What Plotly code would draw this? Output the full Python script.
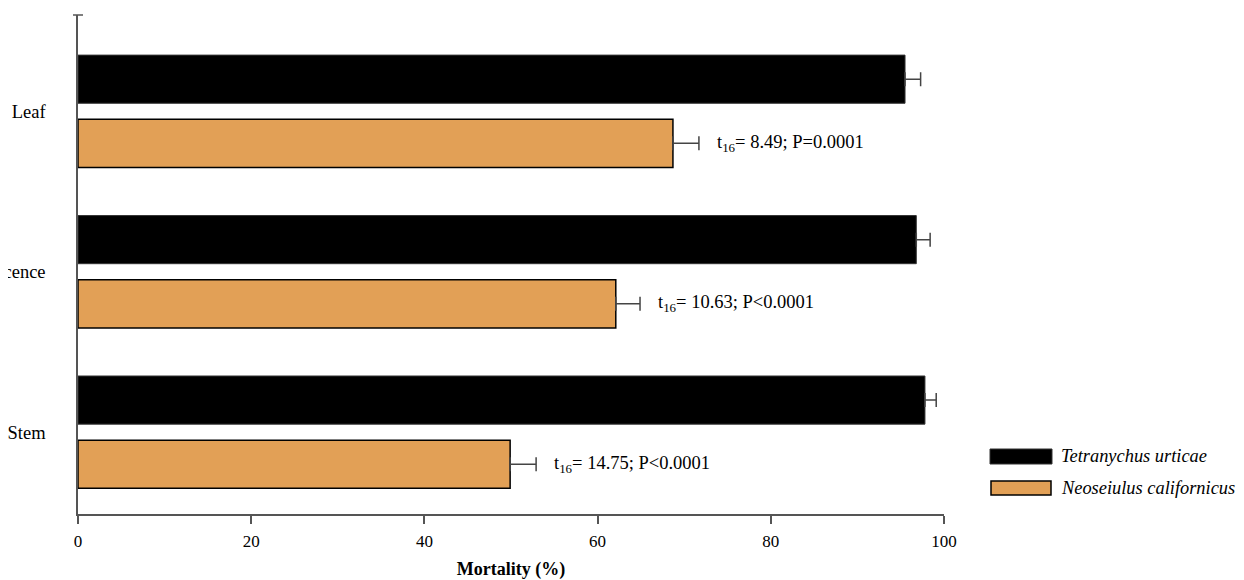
import plotly.graph_objects as go

categories = ["Stem", "Inflorescence", "Leaf"]
tetranychus = [97.8, 96.8, 95.5]
tetranychus_err = [1.3, 1.6, 1.8]
neoseiulus = [49.9, 62.1, 68.7]
neoseiulus_err = [3.0, 2.8, 3.0]
stats_labels = ["t<sub>16</sub>= 14.75; P<0.0001",
                "t<sub>16</sub>= 10.63; P<0.0001",
                "t<sub>16</sub>= 8.49; P=0.0001"]
series_names = ["Tetranychus urticae", "Neoseiulus californicus"]
x_ticks = [0, 20, 40, 60, 80, 100]

BLACK = "#000000"
ORANGE = "#E2A056"
AXIS = "#555555"
FONT = '"Liberation Serif", "DejaVu Serif", serif'

# page offset (browser body margin)
OFF = 8
L, R, T, B = 78, 944, 15, 514   # plot area in screen pixels
W, H = R - L, B - T
FIG_W, FIG_H = 1244 - OFF, 580 - OFF

def px(x):
    return (x - L) / W
def py(y):
    return (B - y) / H

fig = go.Figure()
fig.add_trace(go.Bar(
    y=categories, x=neoseiulus, orientation="h", name=series_names[1],
    marker=dict(color=ORANGE, line=dict(color="#000000", width=1.5)),
    error_x=dict(type="data", array=neoseiulus_err, arrayminus=[0]*3, symmetric=False,
                 color="#444444", thickness=1.5, width=7),
    showlegend=False,
))
fig.add_trace(go.Bar(
    y=categories, x=tetranychus, orientation="h", name=series_names[0],
    marker=dict(color=BLACK, line=dict(color="#333333", width=1)),
    error_x=dict(type="data", array=tetranychus_err, arrayminus=[0]*3, symmetric=False,
                 color="#444444", thickness=1.5, width=7),
    showlegend=False,
))

for i, (v, e, lab) in enumerate(zip(neoseiulus, neoseiulus_err, stats_labels)):
    fig.add_annotation(x=v + e + 1.8, y=i - 0.2, text=lab, showarrow=False,
                       xanchor="left", yanchor="middle",
                       font=dict(family=FONT, size=18.5, color="#000000"))

fig.add_shape(type="rect", xref="paper", yref="paper",
              x0=px(990), x1=px(1052), y0=py(464), y1=py(449),
              fillcolor=BLACK, line=dict(color="#333333", width=1))
fig.add_shape(type="rect", xref="paper", yref="paper",
              x0=px(991), x1=px(1051), y0=py(495), y1=py(481),
              fillcolor=ORANGE, line=dict(color="#000000", width=1.5))
for yy, name in zip([456, 488], series_names):
    fig.add_annotation(xref="paper", yref="paper", x=px(1059), y=py(yy),
                       text="<i>" + name + "</i>", showarrow=False,
                       xanchor="left", yanchor="middle",
                       font=dict(family=FONT, size=18.4, color="#000000"))

fig.add_shape(type="line", xref="paper", yref="paper",
              x0=px(73), x1=px(83), y0=1, y1=1,
              line=dict(color=AXIS, width=1.5))

fig.update_layout(
    width=FIG_W, height=FIG_H,
    margin=dict(l=L - OFF, r=FIG_W - (R - OFF), t=T - OFF, b=FIG_H - (B - OFF)),
    paper_bgcolor="white", plot_bgcolor="white",
    barmode="group", bargap=0.2, bargroupgap=0.25,
    font=dict(family=FONT, size=17, color="#000000"),
    showlegend=False,
)
fig.update_xaxes(
    range=[0, 100], tickvals=x_ticks, ticks="outside", ticklen=8,
    tickwidth=1.5, tickcolor=AXIS, showline=True, linecolor=AXIS, linewidth=1.5,
    showgrid=False, zeroline=False, tickfont=dict(family=FONT, size=17),
    ticklabelstandoff=3,
    title=dict(text="<b>Mortality (%)</b>", font=dict(family=FONT, size=18), standoff=14),
    automargin=False,
)
fig.update_yaxes(
    categoryorder="array", categoryarray=categories,
    range=[-0.51, 2.6], showline=True, linecolor=AXIS, linewidth=1.5,
    ticks="", showgrid=False, zeroline=False, tickfont=dict(family=FONT, size=18.5),
    ticklabelstandoff=27, automargin=False,
)

fig.write_html("out.html")
